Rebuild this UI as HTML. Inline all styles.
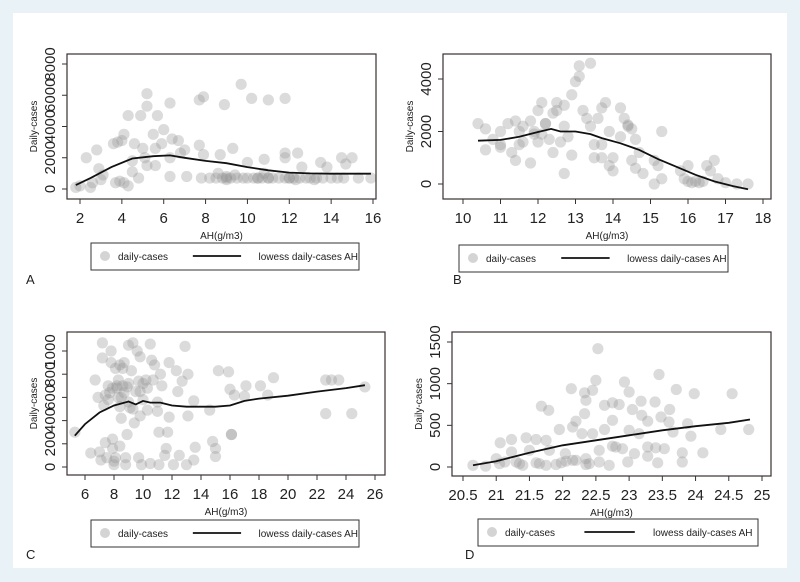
<!DOCTYPE html>
<html><head><meta charset="utf-8">
<style>
html,body{margin:0;padding:0;background:#e8f2f7;}
#wrap{position:relative;width:800px;height:582px;background:#e8f2f7;}
svg{position:absolute;left:0;top:0;}
text{font-family:"Liberation Sans",sans-serif;fill:#222;}
</style></head>
<body>
<div id="wrap">
<svg id="svg" width="800" height="582" viewBox="0 0 800 582">
<rect x="13" y="13" width="774" height="555" fill="#ffffff"/>
</svg>
</div>
<script>
// Panel A data
const aX=[5.2,5.2,6.3,5.7,4.3,4.9,7.7,7.9,8.9,9.7,10.2,11,11.8,4.1,3.6,3.8,4,5.5,5.6,6,5.9,6.4,6.7,7,7.7,8.7,9.3,7.9,10.8,11.8,11.8,12.4,14.5,15,14.7,13.8,13.5,12.6,10,2.8,2.3,2.9,3.1,3.7,3.9,4.3,4.5,4.8,5.2,5.6,6.3,7.1,4.6,5,2,1.8,2.5,2.6,3,4.1,4.5,5.1,6.3,6.8,7.8,8.2,8.5,8.8,9,9.2,9.5,9.8,10,10.3,10.5,10.7,11,11.2,11.5,11.8,12,12.2,12.5,12.8,13,13.3,13.6,14,14.3,14.6,15.3,15.9,9,9,10.5,11,12,12.3,8.6,10.8,13.2,9.4];
const aY=[6100,5300,5500,4700,4700,4700,5700,5900,5400,6700,5800,5700,5800,3500,2900,3000,3100,3500,2600,3800,2900,3200,3100,2500,2800,2200,2600,2200,1900,2300,2000,2300,2000,2000,1600,1400,1700,1400,1700,2500,2000,1300,900,400,500,200,1100,700,1500,1500,800,800,2900,2600,200,100,100,400,600,400,1800,2000,2000,2300,700,700,700,700,700,700,700,700,700,700,700,700,700,700,700,700,700,700,700,700,700,700,700,700,700,700,700,700,600,800,700,700,700,600,1000,1000,600,900];
const aLX=[1.8,2.5,3.5,4.5,5.5,6.3,7,8,9,10,11,12,13,14,15,15.9];
const aLY=[250,700,1400,1950,2100,2150,2000,1800,1650,1400,1200,1050,1000,980,980,980];
const aXTicks=[2,4,6,8,10,12,14,16];
const aYTicks=[0,2000,4000,6000,8000];
// Panel B data
const bX=[10.4,10.6,10.6,10.8,11,11,11,11.2,11.3,11.4,11.5,11.6,11.4,11.6,11.8,11.9,11.8,12,12.1,12,12.2,12.3,12.4,12.5,12.5,12.4,12.6,12.7,12.7,12.8,12.7,12.9,12.9,13,13.1,13.1,13.4,13.2,13.3,13.4,13.5,13.5,13.6,13.7,13.7,13.7,13.8,13.9,13.9,14,14,14.2,14.2,14.3,14.4,14.5,14.5,14.6,14.6,14.7,14.8,15.1,15.2,15.1,15.3,15.3,15.8,15.9,16,16,16.1,16.2,16.3,16.4,16.5,16.6,16.7,16.8,17,17.3,17.6,11.5,11.9,12.1,14.4,12.2];
const bY=[2300,2100,1300,1700,2000,1400,1500,2300,1200,2400,1500,1600,900,2200,2400,2000,800,2800,3100,1600,2300,1700,2700,3100,2800,1200,1600,3000,2200,1800,400,1100,3400,3900,4100,4500,4600,2800,2500,2200,1500,1000,2500,1500,1000,2900,3100,2000,700,1000,500,2900,1800,2500,2200,2100,900,1700,600,1200,400,900,700,0,2000,200,500,200,700,100,50,100,50,100,700,500,900,200,50,0,0,2000,1900,1900,2250,2300];
const bLX=[10.4,11,11.5,12,12.35,12.6,13,13.4,13.7,14.2,14.7,15.2,15.7,16.2,16.7,17.2,17.6];
const bLY=[1650,1680,1800,1980,2100,2000,2000,1900,1750,1550,1300,950,650,350,100,-80,-200];
const bXTicks=[10,11,12,13,14,15,16,17,18];
const bYTicks=[0,2000,4000];
// Panel C data
const cX=[5.3,6.4,6.7,6.9,7,7.1,7.2,7.2,7.3,7.4,7.4,7.5,7.6,7.7,7.8,7.8,7.9,7.9,7.9,8,8,8.1,8.1,8.2,8.3,8.3,8.4,8.4,8.4,8.5,8.6,8.6,8.7,8.8,8.8,8.9,9,9,9,9.2,9.3,9.3,9.4,9.5,9.6,9.7,9.7,9.8,9.8,9.9,10,10,10.2,10.3,10.5,10.5,10.6,10.7,10.8,11,11,11.1,11.1,11.2,11.3,11.5,11.6,11.7,11.8,11.8,12.1,12.3,12.4,12.5,12.7,12.9,13,13.1,13.1,13.5,13.6,13.5,14.6,14.8,15,15,15.2,15.9,16,16.1,16.3,17,17.1,18.1,18.6,19,22.6,22.6,23,23.5,24.4,25.3,8.2,8.9,9.1,10.3,8.5,8.7,9.8,7.6,16.1];
const cY=[300,120,750,600,130,60,1070,940,530,620,210,80,700,640,1000,900,680,240,160,50,20,80,850,700,750,600,880,520,180,420,850,700,640,80,20,280,1050,720,560,830,1070,500,380,650,1000,740,80,950,440,20,720,580,750,490,1060,30,920,750,880,560,480,300,20,800,700,100,160,300,900,430,20,830,650,100,740,1040,20,800,440,570,170,60,490,220,160,90,830,820,670,280,620,610,700,700,620,770,750,460,750,750,460,690,680,690,510,680,600,900,650,580,280];
const cLX=[5.3,6,7,8,9,9.5,10,10.5,11.2,12,13,14,15,16,17,18,20,22,24,25.3];
const cLY=[270,370,470,530,565,540,570,555,555,530,520,520,520,530,570,590,615,650,680,705];
const cXTicks=[6,8,10,12,14,16,18,20,22,24,26];
const cYTicks=[0,200,400,600,800,1000];
// Panel D data
const dX=[20.65,20.84,21.0,21.06,21.05,21.13,21.23,21.23,21.3,21.45,21.4,21.5,21.6,21.68,21.79,21.65,21.75,21.75,21.95,21.98,22.04,22.13,22.15,22.2,22.2,22.33,22.29,22.35,22.33,22.35,22.4,22.45,22.5,22.53,22.55,22.63,22.63,22.75,22.75,22.7,22.85,22.93,22.9,22.98,23.0,23.0,23.05,23.08,23.18,23.19,23.28,23.28,23.28,23.39,23.4,23.45,23.43,23.48,23.53,23.61,23.6,23.66,23.71,23.8,23.8,23.88,23.93,23.98,24.11,24.38,24.55,24.8,22.35,22.15,22.05,22.55,22.8,21.8,21.9,22.75,21.6,21.35,23.15,22.45];
const dY=[20,10,100,290,40,60,330,180,60,350,20,200,330,730,680,40,320,20,450,50,160,940,480,550,80,640,400,30,890,800,40,920,1040,1420,200,740,450,770,560,20,750,1020,220,60,900,440,690,160,790,620,240,130,550,780,230,1110,50,600,220,690,540,420,930,60,170,520,370,880,170,450,880,450,100,80,70,60,240,200,30,250,50,40,400,400];
const dLX=[20.65,21,21.5,22,22.5,23,23.5,24,24.5,24.82];
const dLY=[20,70,170,260,320,380,440,490,530,570];
const dXTicks=[20.5,21,21.5,22,22.5,23,23.5,24,24.5,25];
const dYTicks=[0,500,1000,1500];

const svg=document.getElementById('svg');
const NS='http://www.w3.org/2000/svg';
function mk(tag,attrs,parent){const e=document.createElementNS(NS,tag);for(const k in attrs)e.setAttribute(k,attrs[k]);(parent||svg).appendChild(e);return e;}

function panel(p,xs,ys,lx,ly,xt,yt){
  const g=mk('g',{});
  
  
  const sx=v=>p.x0+(v-p.xa)*(p.x1-p.x0)/(p.xb-p.xa);
  const sy=v=>p.y0+(v-p.ya)*(p.y1-p.y0)/(p.yb-p.ya);
  const pts=mk('g',{},g);
  
  
  for(let i=0;i<xs.length;i++){
    const c=mk('circle',{cx:sx(xs[i]),cy:sy(ys[i]),r:5.6,fill:'#939393','fill-opacity':0.33},pts);
    
    
  }
  let d='';
  for(let i=0;i<lx.length;i++)d+=(i?'L':'M')+sx(lx[i]).toFixed(1)+','+sy(ly[i]).toFixed(1);
  const ln=mk('path',{d:d,fill:'none',stroke:'#111','stroke-width':1.8},g);
  
  
  const box=mk('rect',{x:p.bx,y:p.by,width:p.bw,height:p.bh,fill:'none',stroke:'#3a3030','stroke-width':1.2},g);
  
  
  for(const t of yt){
    const y=sy(t);
    mk('line',{x1:p.bx-5,x2:p.bx,y1:y,y2:y,stroke:'#333','stroke-width':1},g);
    const tx=mk('text',{x:0,y:0,'font-size':15,'text-anchor':'middle',transform:`translate(${p.bx-12},${y}) rotate(-90)`},g);
    tx.textContent=t;
    
    
  }
  for(const t of xt){
    const x=sx(t);
    mk('line',{x1:x,x2:x,y1:p.by+p.bh,y2:p.by+p.bh+5,stroke:'#333','stroke-width':1},g);
    const tx=mk('text',{x:x,y:p.by+p.bh+24,'font-size':15,'text-anchor':'middle'},g);
    tx.textContent=t;
    
    
  }
  const yl=mk('text',{x:0,y:0,'font-size':10,'text-anchor':'middle',transform:`translate(${p.bx-30},${p.by+p.bh/2}) rotate(-90)`},g);
  yl.textContent='Daily-cases';
  
  
  const xl=mk('text',{x:p.bx+p.bw/2,y:p.by+p.bh+40,'font-size':10,'text-anchor':'middle'},g);
  xl.textContent='AH(g/m3)';
  
  
  const lg=mk('g',{},g);
  
  
  mk('rect',{x:p.lx,y:p.ly,width:p.lw,height:27,fill:'#fff',stroke:'#333','stroke-width':1},lg);
  mk('circle',{cx:p.lx+14,cy:p.ly+13,r:5,fill:'#aaa','fill-opacity':0.5},lg);
  const t1=mk('text',{x:p.lx+27,y:p.ly+17,'font-size':10},lg);
  t1.textContent='daily-cases';
  
  
  mk('line',{x1:p.lx+p.lw*0.38,x2:p.lx+p.lw*0.56,y1:p.ly+13,y2:p.ly+13,stroke:'#111','stroke-width':1.8},lg);
  const t2=mk('text',{x:p.lx+p.lw*0.625,y:p.ly+17,'font-size':10},lg);
  t2.textContent='lowess daily-cases AH';
  
  
  const L=mk('text',{x:p.labx,y:p.laby,'font-size':13},g);
  L.textContent=p.id;
  
  
}

panel({id:'A',xa:2,xb:16,x0:80,x1:373,ya:0,yb:8000,y0:189,y1:64,bx:67,by:54,bw:309,bh:145,lx:91,ly:243,lw:268,labx:26,laby:284},aX,aY,aLX,aLY,aXTicks,aYTicks);
panel({id:'B',xa:10,xb:18,x0:463,x1:763,ya:0,yb:4000,y0:184,y1:79,bx:443,by:54,bw:328,bh:145,lx:459,ly:245,lw:269,labx:453,laby:284},bX,bY,bLX,bLY,bXTicks,bYTicks);
panel({id:'C',xa:6,xb:26,x0:85,x1:375,ya:0,yb:1000,y0:467,y1:351,bx:67,by:332,bw:318,bh:143,lx:91,ly:520,lw:268,labx:26,laby:559},cX,cY,cLX,cLY,cXTicks,cYTicks);
panel({id:'D',xa:20.5,xb:25,x0:463,x1:762,ya:0,yb:1500,y0:467,y1:342,bx:452,by:332,bw:319,bh:144,lx:478,ly:519,lw:280,labx:465,laby:559},dX,dY,dLX,dLY,dXTicks,dYTicks);
</script>
</body></html>
